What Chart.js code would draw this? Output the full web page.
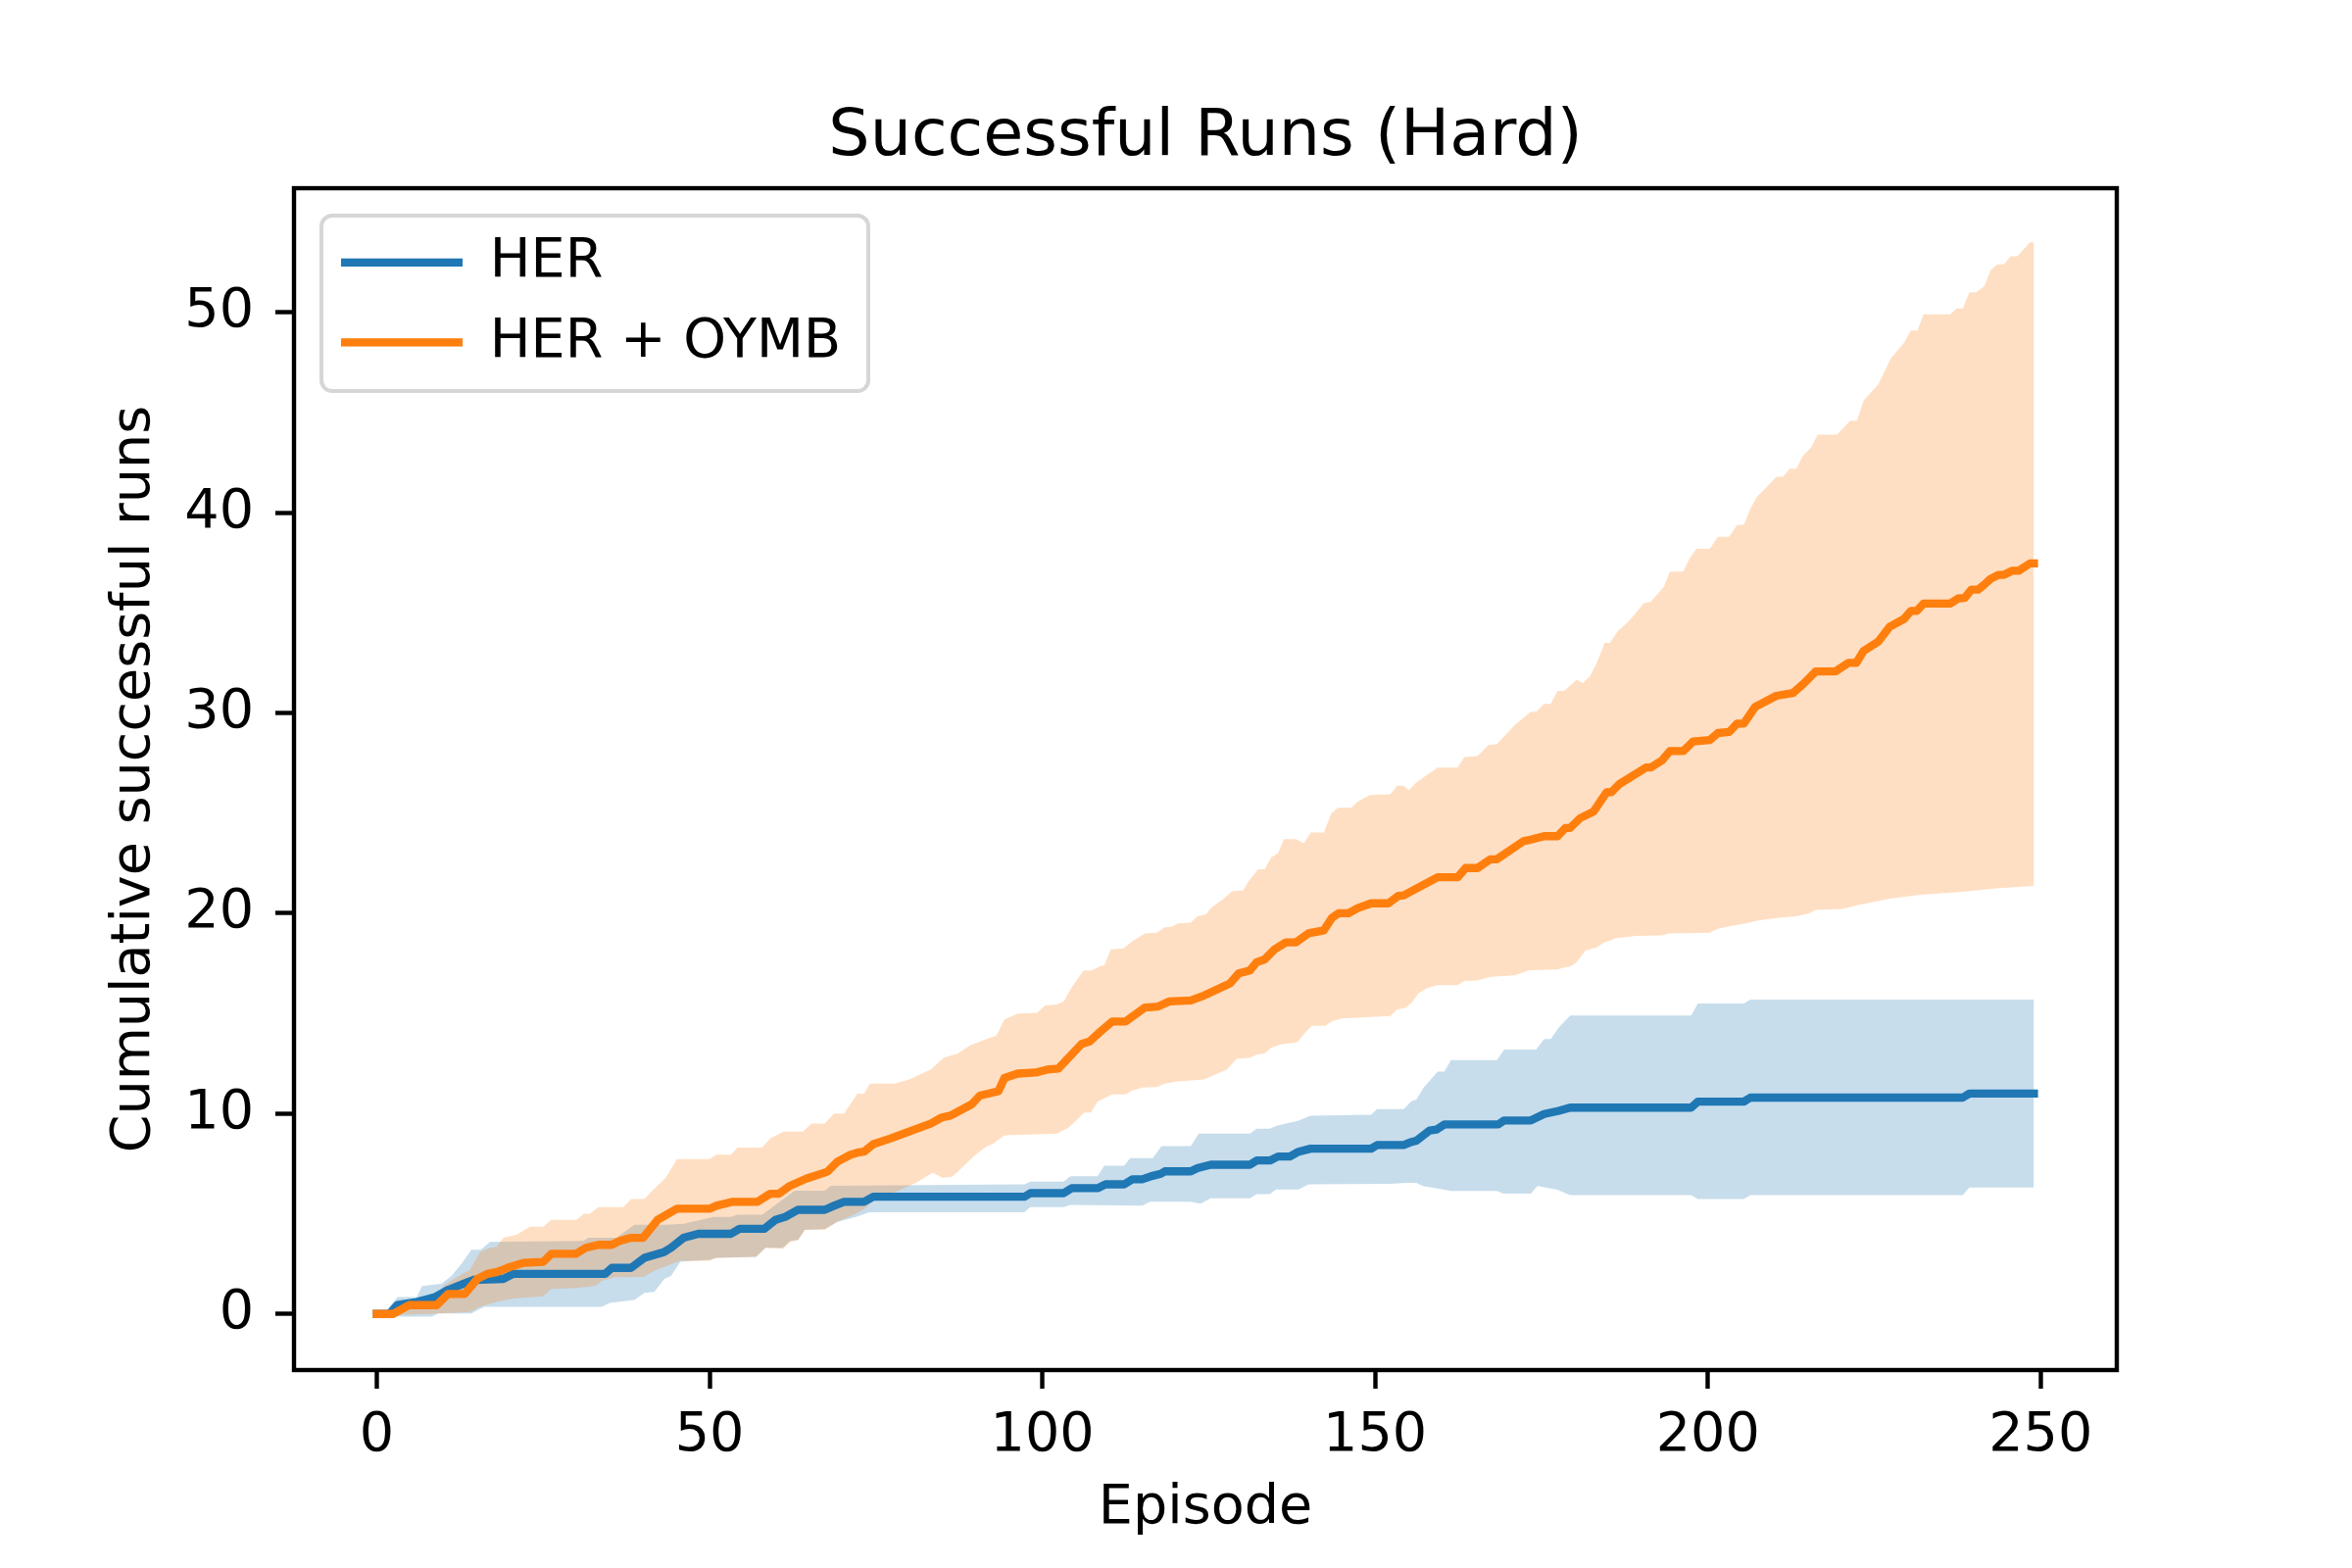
<!DOCTYPE html>
<html>
<head>
<meta charset="utf-8">
<script src="https://cdn.jsdelivr.net/npm/chart.js@4.4.1/dist/chart.umd.min.js"></script>
<style>
  html, body { margin: 0; padding: 0; background: #fff; }
  canvas { display: block; }
</style>
</head>
<body>
<canvas id="chart" width="2400" height="1600" style="width:2400px;height:1600px"></canvas>
<script>
// [episode, value] knots
const herMean = [[0,0],[1.9,0],[3.1,0.45],[6,0.6],[8.8,0.85],[10.7,1.2],[13.7,1.6],[14.5,1.7],[19,1.75],[20.5,2],[34.3,2],[35.3,2.3],[38.2,2.3],[40.2,2.8],[43.2,3.1],[44.2,3.3],[46.1,3.8],[48.3,4],[53.2,4],[54.5,4.25],[58.2,4.25],[59.9,4.7],[61.4,4.85],[63.3,5.2],[67.3,5.2],[68.7,5.4],[70.2,5.6],[73.2,5.6],[74.6,5.85],[97.3,5.85],[98.2,6.03],[103.2,6.03],[104.4,6.28],[108.3,6.28],[109.5,6.47],[112.3,6.47],[113.5,6.72],[115,6.72],[116.4,6.88],[117.8,7],[118.4,7.12],[122.3,7.12],[123.3,7.28],[125.3,7.45],[131.2,7.45],[132.2,7.66],[134.2,7.66],[135.4,7.86],[137.2,7.86],[138.5,8.1],[140.3,8.25],[149.4,8.25],[150.3,8.43],[154.3,8.43],[155.5,8.59],[156.2,8.65],[158.2,9.16],[159.2,9.2],[160.4,9.46],[168.5,9.46],[169.4,9.66],[173.4,9.66],[175.4,9.98],[177.6,10.14],[179.3,10.3],[197.5,10.3],[198.5,10.6],[205.4,10.6],[206.4,10.8],[238.3,10.8],[239.3,11],[249,11]];
const herUpper = [[0,0],[1.5,0.2],[3.1,0.85],[6,0.85],[6.8,1.4],[9.7,1.5],[11.2,1.9],[12.7,2.5],[14.2,3.2],[15.6,3.2],[17,3.6],[31,3.65],[31.8,3.8],[36,3.8],[38.7,4.45],[43.6,4.45],[46.1,4.5],[50.6,4.85],[53.2,4.85],[54.2,4.95],[57.9,4.95],[59.3,5.3],[62.8,6.15],[67.3,6.15],[68.2,6.4],[97.3,6.47],[98.2,6.6],[103.2,6.6],[104.2,6.88],[108.3,6.88],[109.3,7.4],[112.3,7.4],[113.2,7.78],[116.6,7.78],[117.9,8.38],[122.3,8.38],[123.5,9],[131.2,9],[132.2,9.25],[134.2,9.25],[135.2,9.4],[138.5,9.65],[140.3,9.9],[149.4,9.95],[150.3,10.23],[154.3,10.23],[155.5,10.63],[156.2,10.7],[157.3,11.3],[159.4,12.1],[160.4,12.1],[161.4,12.67],[168.3,12.67],[169.4,13.2],[174.2,13.2],[175.4,13.73],[176.4,13.73],[177.6,14.3],[179.3,14.9],[197.5,14.9],[198.5,15.5],[205.4,15.5],[206.4,15.69],[249,15.69]];
const herLower = [[0,0],[2,-0.05],[3.1,-0.13],[8.3,-0.13],[9.2,0.03],[14.2,0.03],[16.1,0.36],[33.8,0.36],[35,0.55],[38.7,0.7],[40.2,1.05],[41.7,1.1],[43.2,1.75],[44.2,1.9],[45.6,2.6],[50,2.7],[51,2.8],[57,2.85],[58.4,3.3],[61,3.3],[62.1,3.65],[63.3,3.7],[64.3,4.2],[67.3,4.25],[69.2,4.6],[72,4.85],[74,5.08],[97.3,5.08],[98.2,5.33],[103.2,5.33],[104.2,5.44],[115,5.41],[116.2,5.6],[122.3,5.6],[123.8,5.5],[125.3,5.77],[131.2,5.77],[132.2,5.98],[134.2,5.98],[135.1,6.22],[138.5,6.22],[140,6.47],[152.3,6.5],[154.5,6.55],[156.2,6.55],[157.2,6.39],[159.4,6.26],[161.4,6.14],[168.3,6.14],[169.3,6.01],[173.4,6.01],[174.4,6.39],[177.4,6.2],[179.3,5.93],[197.5,5.93],[198.5,5.74],[205.4,5.74],[206.4,5.93],[238.3,5.93],[239.3,6.31],[249,6.31]];

const oymbMean = [[0,0],[2.4,0],[4.8,0.44],[9,0.44],[10.7,1],[13.2,1],[15.1,1.75],[16.6,2],[18.1,2.1],[19.6,2.3],[22,2.55],[25,2.6],[26.2,3],[29.9,3],[31.4,3.3],[33.3,3.45],[35.3,3.45],[36.5,3.65],[38.2,3.8],[40,3.8],[42.2,4.7],[45.1,5.25],[50,5.25],[51,5.4],[53.5,5.6],[57.2,5.6],[59.1,6],[60.4,6],[62.1,6.4],[64.5,6.75],[67.7,7.1],[69.2,7.6],[71.2,7.95],[72.2,8.05],[73.2,8.1],[74.6,8.48],[77.1,8.75],[79.1,9],[83.2,9.5],[84.9,9.81],[86.2,9.9],[89.4,10.47],[90.6,10.9],[93.4,11.12],[94.3,11.78],[96.3,12],[99,12.05],[100.7,12.2],[102.4,12.25],[105.9,13.48],[107.1,13.6],[108.6,14.06],[110.5,14.6],[112.5,14.6],[115.4,15.3],[117.4,15.35],[119.1,15.6],[122.3,15.65],[124.3,15.9],[128.2,16.5],[129.5,17],[131.2,17.15],[132.2,17.56],[133.4,17.7],[134.9,18.2],[136.6,18.55],[138.1,18.55],[140,19],[142.3,19.15],[143.5,19.77],[144.5,20],[146,20],[147.4,20.26],[149.4,20.5],[152,20.5],[153.5,20.87],[154.3,20.9],[159.4,21.8],[162.4,21.8],[163.6,22.26],[165.4,22.26],[167.3,22.7],[168.3,22.7],[172.3,23.6],[173.4,23.68],[175.4,23.85],[177.4,23.85],[178.6,24.26],[179.3,24.26],[180.8,24.75],[182.8,25.07],[183.8,25.56],[184.8,26.05],[185.5,26.05],[186.7,26.45],[190.7,27.28],[191.4,27.28],[193.1,27.63],[194.3,28.1],[196.3,28.1],[197.8,28.58],[200.3,28.65],[201.5,29],[203.2,29.05],[204.4,29.47],[205.4,29.47],[207.1,30.3],[210.3,30.86],[212.8,31],[214.5,31.5],[216.2,32.08],[219.2,32.08],[221.1,32.5],[222.3,32.5],[223.4,33.1],[225.6,33.56],[227.3,34.3],[229.5,34.7],[230.5,35.1],[231.4,35.1],[232.4,35.46],[236.4,35.46],[237.6,35.72],[238.6,35.75],[239.6,36.16],[240.6,36.16],[241.5,36.4],[242.5,36.7],[243.7,36.9],[244.5,36.9],[245.7,37.1],[246.7,37.1],[248.4,37.47],[249,37.47]];
const oymbUpper = [[0,0],[2.5,0.1],[4.5,0.6],[9,0.9],[10,1.4],[12,1.85],[14,2.2],[15.5,3.1],[17,3.3],[18,3.35],[19,3.8],[21,3.95],[23,4.35],[25,4.35],[26.2,4.7],[30,4.7],[31.1,5],[32,5],[33.3,5.33],[37,5.33],[38.2,5.74],[40.2,5.74],[41.4,6.15],[43.4,6.8],[45.1,7.73],[50,7.73],[51,7.95],[53.2,7.95],[54.2,8.3],[57.9,8.3],[59.1,8.76],[61.1,9.1],[64,9.1],[65.3,9.5],[67.3,9.5],[68.7,10],[70.2,10],[72.2,11],[73.2,11],[74.1,11.5],[77.8,11.5],[80,11.7],[83.2,12.2],[85.2,12.8],[87.3,13],[89.1,13.4],[91.4,13.7],[93.1,13.9],[94.3,14.7],[96.3,15],[99.2,15.03],[100.4,15.4],[102.2,15.45],[103.2,15.6],[104.4,16.3],[106.2,17.15],[107.4,17.15],[108.6,17.35],[109.3,17.4],[110.3,18.2],[112.2,18.25],[113.5,18.6],[114.5,18.8],[115.4,19],[117.2,19.03],[118.4,19.3],[119.4,19.33],[120.4,19.5],[122.3,19.53],[123.3,19.85],[124.6,19.95],[125.3,20.25],[127.3,20.75],[128.5,21.1],[130.2,21.15],[131,21.6],[132.4,22.2],[133.4,22.2],[134.4,22.8],[135.4,23],[136.3,23.7],[138.1,23.7],[139.3,23.5],[140.3,24.04],[142.3,24.04],[143.4,24.98],[144.4,25.27],[146.4,25.27],[147.4,25.58],[149.2,25.9],[152.3,25.94],[153.3,26.37],[154.3,26.37],[155.1,26.15],[156.1,26.5],[157.2,26.78],[159.4,27.27],[162.4,27.27],[163.4,27.8],[165.4,27.85],[167,28.4],[168.3,28.45],[171,29.4],[173.4,30.07],[174.2,30.07],[175.4,30.45],[176.4,30.45],[177.4,31.1],[178.4,31.1],[180.3,31.67],[181.2,31.5],[182.3,31.84],[183.3,32.5],[184.5,33.5],[185.3,33.5],[186.5,34.1],[188.2,34.6],[190.4,35.5],[191.4,35.55],[193.4,36.3],[194.3,37.06],[196.3,37.06],[197.3,37.75],[198.3,38.2],[200.3,38.2],[201.5,38.8],[203.2,38.8],[204.4,39.4],[205.4,39.4],[206.4,40.2],[207.4,40.8],[208.6,41.2],[210.3,41.8],[211.3,41.8],[212.3,42.2],[213.3,42.2],[214.3,42.85],[215.5,43.25],[216.5,43.9],[219.4,43.9],[221.4,44.6],[222.4,44.6],[223.4,45.6],[225.6,46.4],[227.5,47.7],[229.5,48.5],[230.5,49.1],[231.5,49.1],[232.4,49.9],[236.4,49.9],[237.4,50.2],[238.3,50.2],[239.3,51],[240.3,51],[241.5,51.3],[242.5,52.1],[243.5,52.4],[244.5,52.4],[245.5,52.8],[246.5,52.8],[248.4,53.5],[249,53.5]];
const oymbLower = [[0,0],[3,-0.05],[8,0],[14,0.1],[15.5,0.36],[18,0.6],[20.5,0.77],[25,0.88],[26.2,1.25],[30,1.3],[32.8,1.4],[33.8,1.65],[35.8,1.83],[40,1.85],[42,2.2],[45.6,2.65],[50,2.65],[51,2.8],[57,2.85],[58.4,3.3],[61,3.25],[62.1,3.6],[63.3,3.7],[64.3,4.2],[67.3,4.2],[69.2,4.6],[72,5],[73.2,5.24],[75.1,5.8],[78,6.1],[81,6.55],[83.5,7.04],[85,6.8],[86.4,6.85],[87.1,7.04],[88.4,7.45],[89.9,7.94],[91.6,8.35],[92.6,8.5],[94.3,8.92],[102.2,9],[103.9,9.3],[104.6,9.5],[106.3,10.06],[107.3,10.06],[108.3,10.6],[110.5,10.96],[112.5,10.96],[113.5,11.15],[115,11.3],[117.2,11.33],[118.4,11.5],[120,11.6],[124.3,11.7],[126.3,12],[127.7,12.2],[129.2,12.75],[131.2,12.78],[132.2,12.95],[133.4,13],[134.4,13.3],[135.9,13.45],[138.3,13.57],[139.3,13.97],[140.5,14.38],[142.5,14.38],[143.5,14.6],[145,14.75],[152.3,14.87],[153.3,15.2],[154.5,15.28],[155.5,15.53],[156.5,16],[157.7,16.25],[159.4,16.42],[162.4,16.42],[163.4,16.62],[165.4,16.65],[167.3,16.83],[171,16.9],[173.2,17.16],[177.4,17.2],[178.4,17.3],[179.3,17.35],[180.3,17.56],[181.6,18.14],[183.3,18.3],[184.5,18.55],[186.3,18.76],[189.2,18.87],[193.1,18.9],[194.1,19],[200.3,19.03],[201.5,19.23],[203.9,19.4],[205.4,19.47],[207.4,19.63],[210.3,19.77],[213.3,19.85],[215.2,20],[216.2,20.17],[220.2,20.22],[222.6,20.42],[227.5,20.75],[232.4,20.94],[238.3,21.07],[243.3,21.24],[249,21.37]];

const xTicks = [0, 50, 100, 150, 200, 250];
const yTicks = [0, 10, 20, 30, 40, 50];

const FONT = 'DejaVu Sans';

// matplotlib style frame around the plot area, legend inside it
const axesBox = {
  id: 'axesBox',
  afterLayout(chart) {
    const ca = chart.chartArea, lg = chart.legend, tb = chart.titleBlock;
    // centre the title over the axes, not the whole canvas
    tb.left = ca.left;
    tb.right = ca.right;
    lg.left = ca.left + 22;
    lg.top = ca.top + 22;
    lg.right = lg.left + 600;
    lg.bottom = lg.top + 400;
    lg.width = 600;
    lg.height = 400;
  },
  beforeDraw(chart) {
    const ctx = chart.ctx;
    ctx.save();
    ctx.fillStyle = '#fff';
    ctx.fillRect(0, 0, chart.width, chart.height);
    ctx.restore();
  },
  afterDatasetsDraw(chart) {
    const ctx = chart.ctx, ca = chart.chartArea;
    // legend frame
    ctx.save();
    const x = ca.left + 28, y = ca.top + 28, w = 558, h = 179, r = 11;
    ctx.beginPath();
    ctx.roundRect(x, y, w, h, r);
    ctx.fillStyle = 'rgba(255,255,255,0.8)';
    ctx.fill();
    ctx.lineWidth = 4;
    ctx.strokeStyle = '#d6d6d6';
    ctx.stroke();
    ctx.restore();
    // spines
    ctx.save();
    ctx.lineWidth = 4.4;
    ctx.strokeStyle = '#000';
    ctx.strokeRect(ca.left, ca.top, ca.right - ca.left, ca.bottom - ca.top);
    ctx.restore();
  },
  afterDraw(chart) {
    // legend is a layer under the datasets; paint it again above the frame
    chart.legend.draw();
  }
};

function band(points, color, fill, order) {
  return {
    label: '_band',
    data: points,
    borderWidth: 0,
    borderColor: 'rgba(0,0,0,0)',
    backgroundColor: color,
    pointRadius: 0,
    fill: fill,
    order: order
  };
}

const datasets = [
  { label: 'HER', data: herMean, borderColor: '#1f77b4', backgroundColor: '#1f77b4',
    borderWidth: 8.3, pointRadius: 0, fill: false, order: 1 },
  band(herUpper, 'rgba(31,119,180,0.25)', '+1', 3),
  band(herLower, 'rgba(31,119,180,0.25)', false, 3),
  { label: 'HER + OYMB', data: oymbMean, borderColor: '#ff7f0e', backgroundColor: '#ff7f0e',
    borderWidth: 8.3, pointRadius: 0, fill: false, order: 0 },
  band(oymbUpper, 'rgba(255,127,14,0.25)', '+1', 2),
  band(oymbLower, 'rgba(255,127,14,0.25)', false, 2)
];

const tickFont = { family: FONT, size: 55.6 };

new Chart(document.getElementById('chart'), {
  type: 'line',
  data: { datasets: datasets },
  options: {
    responsive: false,
    animation: false,
    devicePixelRatio: 1,
    layout: { padding: { left: 0, right: 240, top: 0, bottom: 0 } },
    elements: { line: { tension: 0, borderJoinStyle: 'round', borderCapStyle: 'square' } },
    scales: {
      x: {
        type: 'linear',
        min: -12.45,
        max: 261.45,
        afterBuildTicks: scale => { scale.ticks = xTicks.map(v => ({ value: v })); },
        afterFit: scale => { scale.height = 202; },
        ticks: { font: tickFont, color: '#000', padding: 15, maxRotation: 0, callback: v => String(v) },
        grid: { display: true, drawOnChartArea: false, drawTicks: true, tickLength: 19, tickWidth: 4.4, tickColor: '#000' },
        border: { display: false },
        title: { display: true, text: 'Episode', color: '#000', font: { family: FONT, size: 55.6 }, padding: { top: 0, bottom: 27 } }
      },
      y: {
        type: 'linear',
        min: -2.8,
        max: 56.2,
        afterBuildTicks: scale => { scale.ticks = yTicks.map(v => ({ value: v })); },
        afterFit: scale => { scale.width = 300; },
        ticks: { font: tickFont, color: '#000', padding: 22, callback: v => String(v) },
        grid: { display: true, drawOnChartArea: false, drawTicks: true, tickLength: 19, tickWidth: 4.4, tickColor: '#000' },
        border: { display: false },
        title: { display: true, text: 'Cumulative successful runs', color: '#000', font: { family: FONT, size: 55.6 }, padding: { top: 104, bottom: 0 } }
      }
    },
    plugins: {
      title: {
        display: true,
        text: 'Successful Runs (Hard)',
        color: '#000',
        font: { family: FONT, size: 66.7, weight: 'normal' },
        padding: { top: 101, bottom: 11 }
      },
      legend: {
        position: 'chartArea',
        align: 'start',
        labels: {
          filter: item => item.text !== '_band',
          sort: (a, b) => a.datasetIndex - b.datasetIndex,
          usePointStyle: true,
          pointStyle: 'line',
          pointStyleWidth: 124,
          padding: 26,
          color: '#000',
          font: { family: FONT, size: 55.6 }
        }
      },
      tooltip: { enabled: false }
    }
  },
  plugins: [axesBox]
});
</script>
</body>
</html>
